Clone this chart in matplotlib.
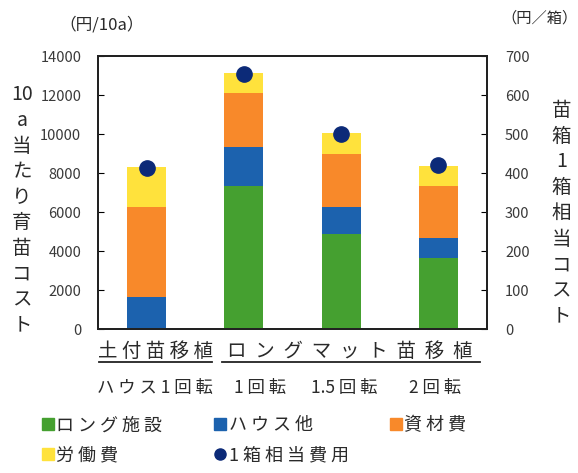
import matplotlib.pyplot as plt
from matplotlib.lines import Line2D

plt.rcParams["font.family"] = ["Noto Sans CJK JP", "DejaVu Sans"]

# cost per 10a, stacked components (yen)
groups = ["土付苗移植", "ロング 1回転", "ロング 1.5回転", "ロング 2回転"]
long_facility = [0, 7330, 4870, 3640]
house_other = [1640, 2000, 1390, 1030]
materials = [4620, 2770, 2710, 2660]
labor = [2050, 1030, 1080, 1030]
# cost per seedling box (yen/box)
per_box = [413, 655, 500, 420]

colors = {
    "long": "#45a030",
    "house": "#1c62ae",
    "mat": "#f8892a",
    "labor": "#ffe23c",
    "dot": "#0c2a78",
}
txt = "#2a2a2a"


def spaced(s, gap=" "):
    # widen the letter spacing, but keep numbers like "1.5" together
    out = s[0]
    for prev, ch in zip(s, s[1:]):
        keep = (prev.isdigit() or prev == ".") and (ch.isdigit() or ch == ".")
        out += ch if keep else gap + ch
    return out


fig = plt.figure(figsize=(5.78, 4.73), dpi=100)
ax = fig.add_axes([0.1696, 0.3044, 0.673, 0.5772])

x = list(range(len(groups)))
w = 0.4
bottom = [0] * len(x)
for vals, key in [(long_facility, "long"), (house_other, "house"),
                  (materials, "mat"), (labor, "labor")]:
    ax.bar(x, vals, w, bottom=bottom, color=colors[key], linewidth=0)
    bottom = [b + v for b, v in zip(bottom, vals)]

ax.set_xlim(-0.5, 3.5)
ax.set_ylim(0, 14000)
ax.set_yticks(range(0, 14001, 2000))
ax.set_xticks([])
ax.tick_params(axis="y", direction="in", length=4, pad=12, labelsize=10.5,
               labelcolor="#3a3a3a")

ax2 = ax.twinx()
ax2.set_ylim(0, 700)
ax2.set_yticks(range(0, 701, 100))
ax2.tick_params(axis="y", direction="in", length=4, pad=13, labelsize=10.5,
                labelcolor="#3a3a3a")
ax2.plot(x, per_box, "o", color=colors["dot"], markersize=11, zorder=5)

for a in (ax, ax2):
    for s in a.spines.values():
        s.set_linewidth(1.4)
        s.set_color("#222222")

# axis unit labels and stacked vertical titles
fig.text(0.176, 0.947, "（円/10a）", fontsize=12, ha="center", va="center",
         color=txt)
fig.text(0.934, 0.962, "（円／箱）", fontsize=11, ha="center", va="center",
         color=txt)
fig.text(0.038, 0.556, "10\na\n当\nた\nり\n育\n苗\nコ\nス\nト", fontsize=14,
         ha="center", va="center", linespacing=1.285, color=txt)
fig.text(0.971, 0.549, "苗\n箱\n1\n箱\n相\n当\nコ\nス\nト", fontsize=14,
         ha="center", va="center", linespacing=1.295, color=txt)

# category labels under the axis
xt = ax.get_xaxis_transform()
ax.text(0.086, -0.081, spaced("土付苗移植"), transform=xt, fontsize=14,
        ha="center", va="center", color=txt)
ax.text(2.09, -0.081, spaced("ロングマット苗移植", "  "), transform=xt,
        fontsize=14, ha="center", va="center", color=txt)
ax.plot([-0.49, 0.672], [-0.121, -0.121], transform=xt, color="#222222",
        lw=1.3, clip_on=False)
ax.plot([0.775, 3.428], [-0.121, -0.121], transform=xt, color="#222222",
        lw=1.3, clip_on=False)
for label, xp in [("ハウス1回転", 0.086), ("1回転", 1.166), ("1.5回転", 2.03),
                  ("2回転", 2.965)]:
    ax.text(xp, -0.216, spaced(label), transform=xt, fontsize=12.5,
            ha="center", va="center", color=txt)


def handle(marker, color, label):
    return Line2D([], [], marker=marker, ls="", color=color, markersize=8,
                  label=spaced(label))


legend_cols = [
    ([handle("s", colors["long"], "ロング施設"),
      handle("s", colors["labor"], "労働費")], 0.074),
    ([handle("s", colors["house"], "ハウス他"),
      handle("o", colors["dot"], "1箱相当費用")], 0.372),
    ([handle("s", colors["mat"], "資材費")], 0.676),
]
for hs, x0 in legend_cols:
    fig.legend(handles=hs, loc="upper left", bbox_to_anchor=(x0, 0.12),
               frameon=False, fontsize=13, handlelength=0.6,
               handletextpad=0.15, labelspacing=0.68, borderaxespad=0,
               borderpad=0, labelcolor=txt)

fig.savefig("out.png", dpi=100)
